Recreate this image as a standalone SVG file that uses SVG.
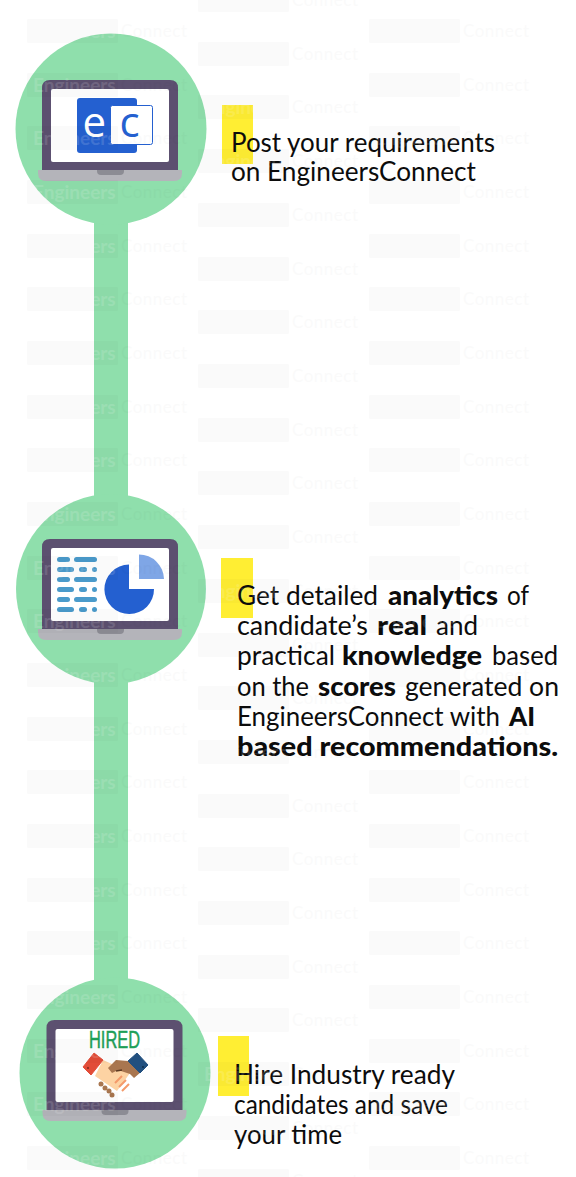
<svg xmlns="http://www.w3.org/2000/svg" width="576" height="1177" viewBox="0 0 576 1177">
<style>
text{font-family:"Lato","Liberation Sans",sans-serif}
.t{font-size:26px;fill:#0c0c0c;font-weight:400}
.b{font-weight:900}
.g{fill:#8fdfac}
.y{fill:#ffee33}
.wr{fill:#000;opacity:.02}
.we{font-size:19px;font-weight:700;fill:#fff;opacity:.13}
.wc{font-size:17px;fill:#000;opacity:.016;letter-spacing:.5px}
.bar{fill:#4a9bcb}
</style>
<defs>
<g id="lap">
<path d="M42 172V88q0-8 8-8H170q8 0 8 8V172Z" fill="#5c5070"/>
<rect x="51" y="89" width="118" height="73" rx="2" fill="#fff"/>
<path d="M38 170H182V173q0 8-8 8H46q-8 0-8-8Z" fill="#b4b4ba"/>
<path d="M97 170H124V171q0 4-4 4H101q-4 0-4-4Z" fill="#8c8c94"/>
</g>
<g id="wm">
<rect class="wr" x="27" y="-12" width="91" height="24" rx="1"/>
<text class="we" x="33" y="7">Engineers</text>
<text class="wc" x="121" y="6">Connect</text>
</g>
</defs>
<rect width="576" height="1177" fill="#fff"/>
<g id="connectors">
<rect class="g" x="94" y="215" width="34" height="290"/>
<rect class="g" x="94" y="675" width="34" height="312"/>
</g>
<g id="step1">
<circle class="g" cx="111" cy="129" r="95.5"/>
<use href="#lap"/>
<g id="logo">
<rect x="77" y="98" width="60" height="55" rx="3" fill="#2460d0"/>
<rect x="110.500" y="105.500" width="42" height="39" rx="2" fill="#fff" stroke="#2460d0"/>
<text x="82.500" y="136.500" font-size="42" fill="#fff" style="font-family:'Open Sans',sans-serif">e</text>
<text x="119.500" y="136.500" font-size="42" fill="#2460d0" style="font-family:'Open Sans',sans-serif">c</text>
</g>
<rect class="y" x="222" y="105" width="31" height="59"/>
<text class="t" y="152" x="231" textLength="264" lengthAdjust="spacingAndGlyphs">Post your requirements</text>
<text class="t" y="181" x="231" textLength="245" lengthAdjust="spacingAndGlyphs">on EngineersConnect</text>
</g>
<g id="step2">
<circle class="g" cx="111" cy="589" r="95"/>
<use href="#lap" y="459"/>
<g id="chart">
<rect class="bar" x="57" y="557" width="13" height="5" rx="2.500"/><rect class="bar" x="74" y="557" width="23" height="5" rx="2.500"/>
<rect class="bar" x="57" y="567" width="17" height="5" rx="2.500"/><rect class="bar" x="79" y="567" width="8" height="5" rx="2.500"/><rect class="bar" x="92" y="567" width="5" height="5" rx="2.500"/>
<rect class="bar" x="57" y="577" width="13" height="5" rx="2.500"/><rect class="bar" x="74" y="577" width="23" height="5" rx="2.500"/>
<rect class="bar" x="57" y="587" width="17" height="5" rx="2.500"/><rect class="bar" x="79" y="587" width="8" height="5" rx="2.500"/><rect class="bar" x="92" y="587" width="5" height="5" rx="2.500"/>
<rect class="bar" x="57" y="597" width="13" height="5" rx="2.500"/><rect class="bar" x="74" y="597" width="23" height="5" rx="2.500"/>
<rect class="bar" x="57" y="607" width="17" height="5" rx="2.500"/><rect class="bar" x="79" y="607" width="8" height="5" rx="2.500"/><rect class="bar" x="92" y="607" width="5" height="5" rx="2.500"/>
<path d="M129 564.500A24.800 24.800 0 1 0 154 589H129Z" fill="#2460d0"/>
<path d="M139 554.500A25 25 0 0 1 164 579H139Z" fill="#7fa6e6"/>
</g>
<rect class="y" x="221" y="558" width="32" height="60"/>
<text class="t" y="605" x="237" textLength="141" lengthAdjust="spacingAndGlyphs">Get detailed</text>
<text class="t b" y="605" x="388" textLength="110" lengthAdjust="spacingAndGlyphs">analytics</text>
<text class="t" y="605" x="507" textLength="22" lengthAdjust="spacingAndGlyphs">of</text>
<text class="t" y="635" x="237" textLength="131" lengthAdjust="spacingAndGlyphs">candidate’s</text>
<text class="t b" y="635" x="377" textLength="50" lengthAdjust="spacingAndGlyphs">real</text>
<text class="t" y="635" x="436" textLength="42" lengthAdjust="spacingAndGlyphs">and</text>
<text class="t" y="665" x="237" textLength="98" lengthAdjust="spacingAndGlyphs">practical</text>
<text class="t b" y="665" x="342" textLength="140" lengthAdjust="spacingAndGlyphs">knowledge</text>
<text class="t" y="665" x="492" textLength="66" lengthAdjust="spacingAndGlyphs">based</text>
<text class="t" y="696" x="237" textLength="72" lengthAdjust="spacingAndGlyphs">on the</text>
<text class="t b" y="696" x="318" textLength="78" lengthAdjust="spacingAndGlyphs">scores</text>
<text class="t" y="696" x="405" textLength="154" lengthAdjust="spacingAndGlyphs">generated on</text>
<text class="t" y="726" x="237" textLength="263" lengthAdjust="spacingAndGlyphs">EngineersConnect with</text>
<text class="t b" y="726" x="509" textLength="26" lengthAdjust="spacingAndGlyphs">AI</text>
<text class="t b" y="756" x="237" textLength="321" lengthAdjust="spacingAndGlyphs">based recommendations.</text>
</g>
<g id="step3">
<circle class="g" cx="115" cy="1073" r="95.500"/>
<use href="#lap" x="4.500" y="940"/>
<text x="89" y="1048" font-size="23" fill="#1da058" stroke="#1da058" stroke-width=".5" textLength="51" lengthAdjust="spacingAndGlyphs" style="font-family:'Liberation Sans',sans-serif">HIRED</text>
<g id="handshake">
<path d="M103 1060L112 1064L125 1066L130 1073L117 1091L95 1076Z" fill="#fdd3a3"/>
<path d="M128 1061L116 1060L108 1068L112 1073L118 1070L130 1074L134 1078L141 1072Z" fill="#a9764f"/>
<path d="M116 1071L122 1070" stroke="#5c3a22" stroke-width="1.500" fill="none"/>
<path d="M115 1083L122 1076M119 1087L126 1080M122 1091L129 1084" stroke="#f49a6a" stroke-width="2" fill="none"/>
<path d="M83 1067L94 1053L103 1060L91 1075Z" fill="#e24c38" stroke="#e24c38" stroke-linejoin="round"/>
<path d="M137 1053L148 1065L140 1073L128 1061Z" fill="#22507f" stroke="#22507f" stroke-linejoin="round"/>
<circle cx="88" cy="1068" r="1" fill="#7a2a1f"/><circle cx="143" cy="1067" r="1" fill="#0f2c4a"/>
<circle cx="101" cy="1084" r="2.500" fill="#a9764f"/><circle cx="105" cy="1088" r="2.500" fill="#a9764f"/><circle cx="109" cy="1091" r="2.500" fill="#a9764f"/><circle cx="112" cy="1095" r="2.500" fill="#a9764f"/>
</g>
<rect class="y" x="218" y="1036" width="31" height="60"/>
<text class="t" y="1084" x="234" textLength="221" lengthAdjust="spacingAndGlyphs">Hire Industry ready</text>
<text class="t" y="1114" x="234" textLength="214" lengthAdjust="spacingAndGlyphs">candidates and save</text>
<text class="t" y="1144" x="234" textLength="108" lengthAdjust="spacingAndGlyphs">your time</text>
</g>
<g id="watermark">
<use href="#wm" y="31"/><use href="#wm" y="85"/><use href="#wm" y="138"/><use href="#wm" y="192"/><use href="#wm" y="246"/><use href="#wm" y="299"/><use href="#wm" y="353"/><use href="#wm" y="407"/><use href="#wm" y="460"/><use href="#wm" y="514"/><use href="#wm" y="568"/><use href="#wm" y="621"/><use href="#wm" y="675"/><use href="#wm" y="729"/><use href="#wm" y="782"/><use href="#wm" y="836"/><use href="#wm" y="890"/><use href="#wm" y="943"/><use href="#wm" y="997"/><use href="#wm" y="1051"/><use href="#wm" y="1104"/><use href="#wm" y="1158"/>
<use href="#wm" x="342" y="31"/><use href="#wm" x="342" y="85"/><use href="#wm" x="342" y="138"/><use href="#wm" x="342" y="192"/><use href="#wm" x="342" y="246"/><use href="#wm" x="342" y="299"/><use href="#wm" x="342" y="353"/><use href="#wm" x="342" y="407"/><use href="#wm" x="342" y="460"/><use href="#wm" x="342" y="514"/><use href="#wm" x="342" y="568"/><use href="#wm" x="342" y="621"/><use href="#wm" x="342" y="675"/><use href="#wm" x="342" y="729"/><use href="#wm" x="342" y="782"/><use href="#wm" x="342" y="836"/><use href="#wm" x="342" y="890"/><use href="#wm" x="342" y="943"/><use href="#wm" x="342" y="997"/><use href="#wm" x="342" y="1051"/><use href="#wm" x="342" y="1104"/><use href="#wm" x="342" y="1158"/>
<use href="#wm" x="171" y="0"/><use href="#wm" x="171" y="54"/><use href="#wm" x="171" y="107"/><use href="#wm" x="171" y="161"/><use href="#wm" x="171" y="215"/><use href="#wm" x="171" y="269"/><use href="#wm" x="171" y="322"/><use href="#wm" x="171" y="376"/><use href="#wm" x="171" y="430"/><use href="#wm" x="171" y="483"/><use href="#wm" x="171" y="537"/><use href="#wm" x="171" y="591"/><use href="#wm" x="171" y="645"/><use href="#wm" x="171" y="698"/><use href="#wm" x="171" y="752"/><use href="#wm" x="171" y="806"/><use href="#wm" x="171" y="859"/><use href="#wm" x="171" y="913"/><use href="#wm" x="171" y="967"/><use href="#wm" x="171" y="1020"/><use href="#wm" x="171" y="1074"/><use href="#wm" x="171" y="1128"/><use href="#wm" x="171" y="1181"/>
</g>
</svg>
